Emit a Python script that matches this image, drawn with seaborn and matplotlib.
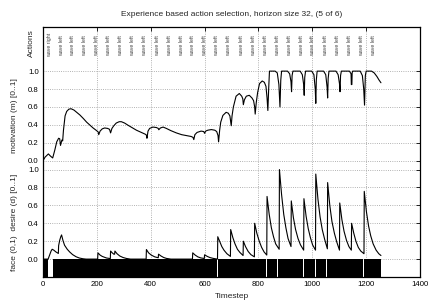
import matplotlib
matplotlib.use("Agg")
import matplotlib.pyplot as plt
import numpy as np
import seaborn as sns

sns.set_style("white")
plt.rcParams['font.family'] = ['Liberation Sans', 'DejaVu Sans']

# action labels (timestep, text)
act_t = [26, 70, 111, 156, 200, 244, 289, 333, 378, 424, 470, 515, 557, 600,
         646, 689, 738, 780, 826, 870, 915, 959, 1002, 1050, 1093, 1137, 1181, 1228]
act_txt = ["wave right"] + ["wave left"] * 27

# motivation (m)
mot_t = [0, 8, 20, 28, 36, 44, 51, 58, 62, 65, 70, 73, 76, 82, 88, 96, 104, 115, 125, 137,
         150, 162, 175, 186, 197, 205, 207, 212, 220, 229, 240, 247, 251, 256, 263, 272, 283,
         291, 303, 316, 330, 347, 365, 380, 384, 386, 390, 396, 408, 421, 428, 430, 436, 446,
         458, 475, 495, 515, 532, 550, 557, 560, 564, 572, 587, 597, 600, 604, 612, 625, 638,
         645, 650, 652, 656, 660, 668, 680, 688, 694, 699, 702, 707, 717, 729, 738, 742, 744,
         748, 755, 766, 776, 782, 786, 788, 792, 797, 804, 814, 822, 828, 832, 835, 838, 841,
         862, 870, 876, 880, 883, 886,
         908, 916, 921, 923, 925, 928,
         955, 963, 968, 970, 972, 975,
         998, 1006, 1011, 1013, 1015, 1018,
         1042, 1050, 1055, 1057, 1059, 1062,
         1088, 1096, 1101, 1103, 1105, 1108,
         1138, 1144, 1145, 1147, 1148, 1150,
         1178, 1186, 1191, 1194, 1197, 1200,
         1220, 1230, 1240, 1248, 1255]
mot_v = [0.0, 0.04, 0.075, 0.05, 0.03, 0.12, 0.21, 0.25, 0.245, 0.17, 0.23, 0.22, 0.34, 0.50,
         0.55, 0.575, 0.58, 0.565, 0.54, 0.51, 0.47, 0.43, 0.395, 0.365, 0.34, 0.32, 0.29, 0.33,
         0.355, 0.365, 0.36, 0.35, 0.31, 0.36, 0.39, 0.42, 0.435, 0.435, 0.42, 0.395, 0.37, 0.34,
         0.315, 0.295, 0.285, 0.25, 0.33, 0.36, 0.375, 0.37, 0.36, 0.345, 0.365, 0.375, 0.36,
         0.335, 0.31, 0.29, 0.28, 0.27, 0.26, 0.235, 0.29, 0.315, 0.33, 0.325, 0.305, 0.33, 0.34,
         0.347, 0.34, 0.325, 0.28, 0.21, 0.34, 0.43, 0.505, 0.54, 0.53, 0.5, 0.39, 0.50, 0.60,
         0.72, 0.75, 0.72, 0.69, 0.625, 0.68, 0.72, 0.73, 0.70, 0.67, 0.6, 0.52, 0.65, 0.76,
         0.86, 0.89, 0.875, 0.83, 0.7, 0.56, 0.8, 1.0,
         1.0, 0.98, 0.85, 0.6, 0.9, 1.0,
         1.0, 0.97, 0.88, 0.77, 0.95, 1.0,
         1.0, 0.96, 0.85, 0.73, 0.93, 1.0,
         1.0, 0.96, 0.8, 0.64, 0.9, 1.0,
         1.0, 0.96, 0.82, 0.70, 0.92, 1.0,
         1.0, 0.96, 0.86, 0.77, 0.95, 1.0,
         1.0, 0.97, 0.85, 0.85, 0.98, 1.0,
         1.0, 0.95, 0.8, 0.62, 0.95, 1.0,
         1.0, 0.98, 0.94, 0.9, 0.87]

# desire (d)
des_t = [0, 19, 25, 30, 34, 40, 48, 57, 58, 62, 66, 69, 74, 80, 90, 99, 110, 123, 135, 148, 160,
         203, 204, 212, 220, 236, 250, 251, 257, 263, 266, 267, 275, 285, 297, 310, 325,
         383, 384, 392, 402, 415, 428, 429, 438, 448, 458, 475,
         555, 556, 565, 575, 586, 599, 600, 610, 620, 632, 646, 648,
         649, 656, 664, 672, 683, 696, 697, 705, 713, 722, 731, 743, 744, 752, 762, 772, 785,
         786, 794, 803, 812, 821, 831, 832, 840, 848, 856, 864, 877, 878, 886, 894, 902, 910,
         921, 922, 930, 938, 947, 956, 968, 969, 977, 985, 993, 1001, 1012, 1013, 1021, 1029,
         1037, 1046, 1056, 1057, 1065, 1073, 1082, 1091, 1101, 1102, 1110, 1118, 1127, 1136,
         1145, 1146, 1154, 1162, 1171, 1180, 1192, 1193, 1201, 1209, 1217, 1226, 1237, 1247, 1255]
des_v = [0, 0, 0.05, 0.09, 0.11, 0.10, 0.08, 0.063, 0.15, 0.21, 0.25, 0.27, 0.21, 0.155, 0.11,
         0.08, 0.05, 0.026, 0.012, 0.004, 0.0,
         0.0, 0.07, 0.045, 0.03, 0.012, 0.006, 0.09, 0.07, 0.055, 0.055, 0.09, 0.06, 0.035,
         0.018, 0.007, 0.0,
         0.0, 0.107, 0.07, 0.045, 0.025, 0.015, 0.055, 0.035, 0.018, 0.008, 0.0,
         0.0, 0.07, 0.045, 0.025, 0.013, 0.007, 0.048, 0.03, 0.017, 0.008, 0.002, 0.0,
         0.25, 0.2, 0.14, 0.1, 0.06, 0.03, 0.33, 0.24, 0.17, 0.11, 0.075, 0.04, 0.2, 0.14, 0.085,
         0.05, 0.025, 0.40, 0.29, 0.2, 0.13, 0.08, 0.045, 0.70, 0.5, 0.35, 0.25, 0.17, 0.11, 1.0,
         0.72, 0.5, 0.35, 0.23, 0.14, 0.65, 0.46, 0.33, 0.23, 0.16, 0.1, 0.675, 0.48, 0.34, 0.24,
         0.16, 0.1, 0.95, 0.67, 0.47, 0.33, 0.22, 0.115, 0.855, 0.6, 0.42, 0.29, 0.19, 0.1, 0.627,
         0.44, 0.31, 0.21, 0.14, 0.1, 0.40, 0.29, 0.2, 0.13, 0.09, 0.06, 0.757, 0.53, 0.37, 0.26,
         0.17, 0.1, 0.06, 0.04]

# face (1 = face present), changes of state
face_t = [0, 20, 36, 58, 61, 648, 651, 827, 830, 870, 873, 967, 970, 1009, 1012, 1052, 1055,
          1189, 1192, 1254]
face_v = [1, 0, 1, 0, 1, 0, 1, 0, 1, 0, 1, 0, 1, 0, 1, 0, 1, 0, 1, 0]

m_off = 1.1
y_bot, y_top = -0.2, 2.593

fig = plt.figure(figsize=(4.32, 3.07), dpi=100)
ax = fig.add_axes([43 / 432, 1 - 277 / 307, 377 / 432, 250 / 307])

sns.lineplot(x=mot_t, y=np.array(mot_v) + m_off, ax=ax, color='black', lw=0.8,
             estimator=None, sort=False)
sns.lineplot(x=des_t, y=des_v, ax=ax, color='black', lw=0.8, estimator=None, sort=False)
ax.fill_between(face_t, y_bot, y_bot + 0.2 * np.array(face_v), step='post',
                color='black', lw=0, zorder=3)

for t, s in zip(act_t, act_txt):
    ax.text(t, 2.39, s, rotation=90, ha='center', va='center', fontsize=3.8, color='#444444')

ax.set_xlim(0, 1400)
ax.set_ylim(y_bot, y_top)
ax.set_xticks(range(0, 1401, 200))
yt = [0, 0.2, 0.4, 0.6, 0.8, 1.0]
ax.set_yticks(yt + [v + m_off for v in yt])
ax.set_yticklabels([f"{v:.1f}" for v in yt] * 2)
ax.tick_params(direction='in', length=3, width=0.6, top=True, right=True,
               labelsize=5.6, pad=3, colors='black')
ax.grid(True, ls=':', color='#999999', lw=0.6)
ax.set_axisbelow(True)
for sp in ax.spines.values():
    sp.set_color('black')
    sp.set_linewidth(0.9)

fig.text(231.5 / 432, 1 - 14 / 307, "Experience based action selection, horizon size 32, (5 of 6)",
         ha='center', va='center', fontsize=6)
fig.text(231.5 / 432, 1 - 297 / 307, "Timestep", ha='center', va='center', fontsize=6)
fig.text(31 / 432, 1 - 43 / 307, "Actions", rotation=90, ha='center', va='center', fontsize=6)
fig.text(15 / 432, 1 - 116 / 307, "motivation (m) [0..1]", rotation=90, ha='center',
         va='center', fontsize=6)
fig.text(15 / 432, 1 - 222 / 307, "face (0,1)  desire (d) [0..1]", rotation=90, ha='center',
         va='center', fontsize=6)

fig.savefig("out.png", dpi=100)
